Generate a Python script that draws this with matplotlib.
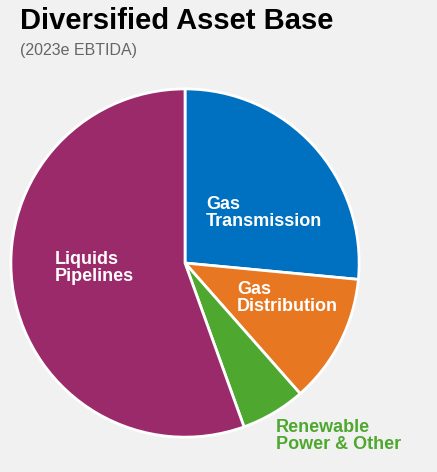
import matplotlib
matplotlib.use('Agg')
import matplotlib.pyplot as plt

# 2023e EBITDA share
segments = ['Gas\nTransmission', 'Gas\nDistribution', 'Renewable\nPower & Other', 'Liquids\nPipelines']
shares = [26.5, 12, 6, 55.5]
colors = ['#0070c0', '#e87722', '#4ea72e', '#9b2a6b']

fig = plt.figure(figsize=(4.37, 4.72), dpi=100)
fig.patch.set_facecolor('#f1f1f1')

ax = fig.add_axes([0.0229, 0.072, 0.801, 0.7415])
ax.pie(shares, colors=colors, startangle=90, counterclock=False,
       wedgeprops=dict(edgecolor='white', linewidth=2))
ax.set_aspect('equal')
ax.set_xlim(-1.005, 1.005)
ax.set_ylim(-1.005, 1.005)

fam = ['Liberation Sans Narrow', 'Liberation Sans', 'DejaVu Sans']
fig.text(0.046, 0.955, 'Diversified Asset Base', fontsize=21, fontweight='bold',
         family=['Liberation Sans', 'DejaVu Sans'], va='center')
fig.text(0.046, 0.893, '(2023e EBTIDA)', fontsize=11.5, color='#666666',
         family=['Liberation Sans', 'DejaVu Sans'], va='center')

fig.text(206/437, 1 - 213/472, segments[0], fontsize=13, fontweight='bold',
         color='white', family=fam, va='center', linespacing=1.0)
fig.text(237/437, 1 - 298/472, segments[1], fontsize=13, fontweight='bold',
         color='white', family=fam, va='center', linespacing=1.0)
fig.text(276/437, 1 - 436/472, segments[2], fontsize=13, fontweight='bold',
         color='#4ea72e', family=fam, va='center', linespacing=1.0)
fig.text(55/437, 1 - 268/472, segments[3], fontsize=13, fontweight='bold',
         color='white', family=fam, va='center', linespacing=1.0)

fig.savefig('out.png', dpi=100, facecolor=fig.get_facecolor())
